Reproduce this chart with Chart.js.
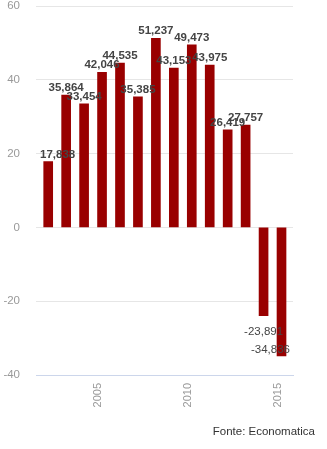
<!DOCTYPE html>
<html>
<head>
<meta charset="utf-8">
<script src="https://cdn.jsdelivr.net/npm/chart.js@4/dist/chart.umd.min.js"></script>
<style>
  body { margin: 0; background: #fff; }
  #wrap { position: relative; width: 327px; height: 449px; }
  #fonte {
    position: absolute; right: 12px; top: 426px;
    font: 11.5px "Liberation Sans", Arial, sans-serif; color: #333; line-height: 1;
  }
</style>
</head>
<body>
<div id="wrap">
  <canvas id="grafico" width="327" height="449"></canvas>
  <div id="fonte">Fonte: Economatica</div>
</div>
<script>
// Anos e valores
var anos = [2002, 2003, 2004, 2005, 2006, 2007, 2008, 2009, 2010, 2011, 2012, 2013, 2014, 2015];
var valores = [17.838, 35.864, 33.454, 42.046, 44.535, 35.385, 51.237, 43.153, 49.473, 43.975, 26.419, 27.757, -23.891, -34.836];
var anosMarcados = [2005, 2010, 2015];
var ticksY = [-40, -20, 0, 20, 40, 60];

var fonte = '"Liberation Sans", Arial, sans-serif';

function formatar(v) {
    return v.toFixed(3).replace('.', ',');
}

// Rótulos de valor em cima (ou embaixo) de cada coluna
var rotulos = {
    id: 'rotulos',
    afterDatasetsDraw: function (chart) {
        var ctx = chart.ctx;
        var area = chart.chartArea;
        var meta = chart.getDatasetMeta(0);
        ctx.save();
        ctx.fillStyle = '#444';
        ctx.textBaseline = 'alphabetic';
        ctx.textAlign = 'left';
        meta.data.forEach(function (barra, i) {
            var v = valores[i];
            var texto = formatar(v);
            ctx.font = (v >= 0 ? 'bold ' : '') + '11.5px ' + fonte;
            var w = ctx.measureText(texto).width;
            var x = barra.x - w / 2;
            if (x < area.left + 4) x = area.left + 4;
            if (x + w > area.right - 3) x = area.right - 3 - w;
            var y;
            if (v >= 0) {
                y = barra.y - 4;
            } else {
                y = barra.y + 19;
                // sem espaço embaixo: o rótulo entra na coluna
                if (y + 4 > area.bottom) y = barra.y - 3;
            }
            ctx.fillText(texto, x, y);
        });
        ctx.restore();
    }
};

new Chart('grafico', {
    type: 'bar',
    data: {
        datasets: [{
            data: anos.map(function (a, i) { return { x: a, y: valores[i] }; }),
            backgroundColor: '#990000',
            barThickness: 9
        }]
    },
    options: {
        responsive: false,
        animation: false,
        layout: { padding: { top: 0, right: 34, left: 0, bottom: 0 } },
        plugins: {
            legend: { display: false },
            tooltip: { enabled: false }
        },
        scales: {
            x: {
                type: 'linear',
                offset: false,
                min: 2001.32,
                max: 2015.64,
                afterBuildTicks: function (s) {
                    s.ticks = anosMarcados.map(function (a) { return { value: a }; });
                },
                afterFit: function (s) { s.height = 74; },
                grid: { display: false, drawTicks: false },
                border: { color: '#ccd6eb', width: 1 },
                ticks: {
                    autoSkip: false,
                    maxRotation: 90,
                    minRotation: 90,
                    padding: 8,
                    labelOffset: -4,
                    color: '#999',
                    font: { family: fonte, size: 11 },
                    callback: function (v) { return String(v); }
                }
            },
            y: {
                min: -40,
                max: 60,
                afterBuildTicks: function (s) {
                    s.ticks = ticksY.map(function (t) { return { value: t }; });
                },
                afterFit: function (s) {
                    s.width = 36;
                    s.paddingTop = 6;
                    s.paddingBottom = 0;
                },
                border: { display: false },
                grid: {
                    drawTicks: false,
                    color: function (c) { return c.tick && c.tick.value === -40 ? 'rgba(0,0,0,0)' : '#e6e6e6'; }
                },
                ticks: {
                    padding: 16,
                    color: '#999',
                    font: { family: fonte, size: 11.5 }
                }
            }
        }
    },
    plugins: [rotulos]
});
</script>
</body>
</html>
